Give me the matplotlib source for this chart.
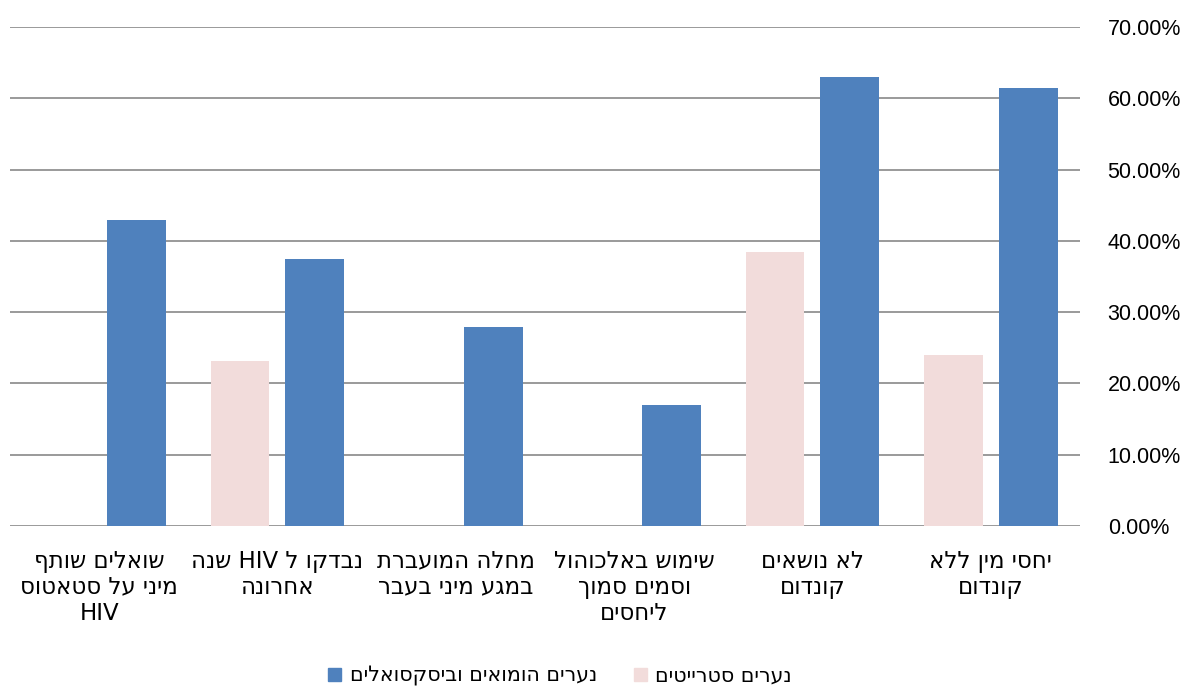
import re
import matplotlib
matplotlib.use("Agg")
import matplotlib.pyplot as plt
import numpy as np
from matplotlib.ticker import FuncFormatter
from matplotlib.patches import Patch

plt.rcParams['font.family'] = ['Liberation Sans', 'DejaVu Sans']
HEB = ['DejaVu Sans']

categories = [
    "יחסי מין ללא\nקונדום",
    "לא נושאים\nקונדום",
    "שימוש באלכוהול\nוסמים סמוך\nליחסים",
    "מחלה המועברת\nבמגע מיני בעבר",
    "נבדקו ל HIV שנה\nאחרונה",
    "שואלים שותף\nמיני על סטאטוס\nHIV",
]
straight = [0.240, 0.384, 0.0, 0.0, 0.231, 0.0]
gay = [0.614, 0.630, 0.170, 0.279, 0.374, 0.429]
series_names = ["נערים הומואים וביסקסואלים", "נערים סטרייטים"]
yticks = [0, 0.1, 0.2, 0.3, 0.4, 0.5, 0.6, 0.7]


def visual(s):
    """Simple bidi: reverse RTL lines, keep LTR runs in order."""
    out = []
    for line in s.split("\n"):
        r = line[::-1]
        r = re.sub(r"[A-Za-z0-9.%]+", lambda m: m.group(0)[::-1], r)
        out.append(r)
    return "\n".join(out)


fig = plt.figure(figsize=(11.89, 6.88), dpi=100)
ax = fig.add_axes([0.0084, 0.2355, 0.8998, 0.7253])

x = np.arange(len(categories))
w = 0.33
ax.bar(x + 0.21, straight, width=w, color="#F2DCDB", zorder=3)
ax.bar(x - 0.21, gay, width=w, color="#4F81BD", zorder=3)

ax.set_xlim(len(categories) - 0.5, -0.5)
ax.set_ylim(0, 0.70)
ax.set_yticks(yticks)
ax.yaxis.set_major_formatter(FuncFormatter(lambda v, p: f"{v*100:.2f}%"))
ax.yaxis.tick_right()
ax.tick_params(axis="y", length=0, pad=20, labelsize=15.5, colors="black")
ax.grid(axis="y", color="#898989", linewidth=1.2, zorder=0)
for s in ax.spines.values():
    s.set_visible(False)

ax.set_xticks(x)
ax.set_xticklabels([visual(c) for c in categories], fontsize=16.5, linespacing=1.17,
                   family=HEB)
ax.tick_params(axis="x", length=0, pad=17)

handles = [Patch(color="#4F81BD"), Patch(color="#F2DCDB")]
fig.legend(handles, [visual(n) for n in series_names], loc="center",
           bbox_to_anchor=(560 / 1189, 1 - 676 / 688), ncol=2, frameon=False,
           prop={'family': HEB, 'size': 14.8}, handlelength=0.65, handleheight=0.65,
           handletextpad=0.4, columnspacing=1.8)

fig.savefig("out.png", dpi=100)
